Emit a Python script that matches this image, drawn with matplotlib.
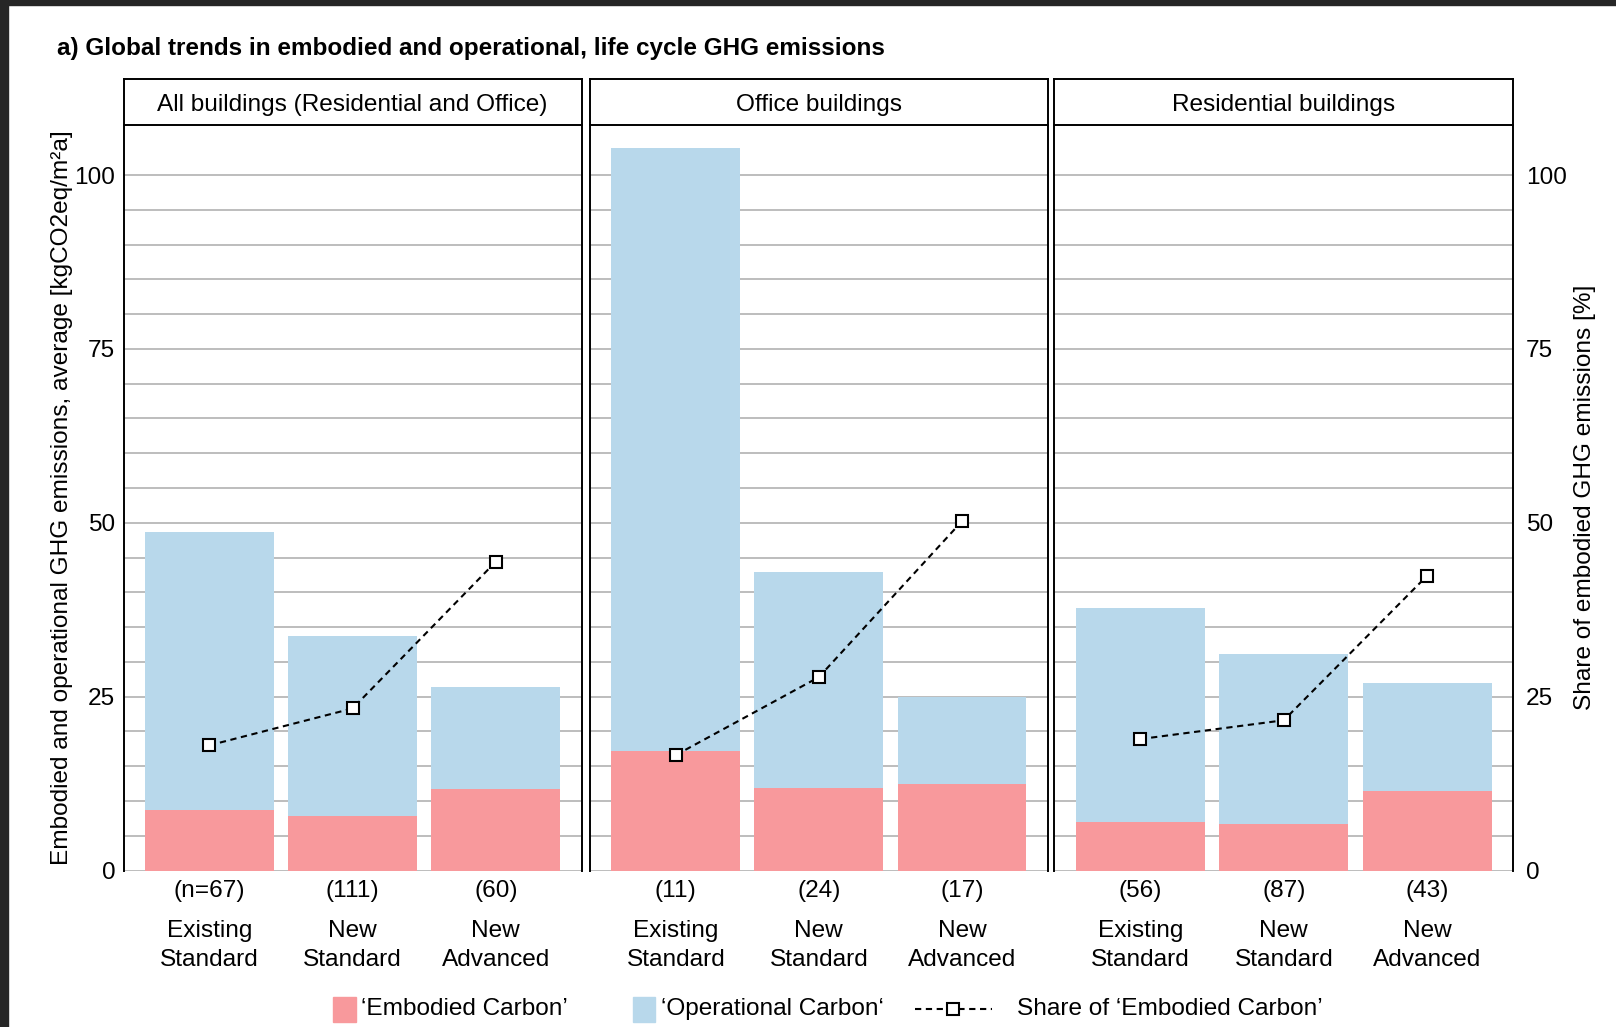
import matplotlib.pyplot as plt
from matplotlib.patches import Rectangle
from matplotlib.lines import Line2D
from matplotlib.transforms import blended_transform_factory

plt.rcParams["font.family"] = ["Liberation Sans", "DejaVu Sans"]

panels = ["All buildings (Residential and Office)", "Office buildings", "Residential buildings"]
categories = ["Existing\nStandard", "New\nStandard", "New\nAdvanced"]
counts = [["(n=67)", "(111)", "(60)"],
          ["(11)", "(24)", "(17)"],
          ["(56)", "(87)", "(43)"]]
# kgCO2eq/m2a, averages per group
embodied = [[8.7, 7.8, 11.7],
            [17.2, 11.8, 12.4],
            [7.0, 6.7, 11.4]]
operational = [[40.0, 25.9, 14.7],
               [86.7, 31.1, 12.5],
               [30.8, 24.5, 15.5]]
# share of embodied carbon, %
share = [[18.0, 23.3, 44.4],
         [16.6, 27.8, 50.2],
         [18.9, 21.6, 42.4]]

red = "#F8999C"
blue = "#B8D8EB"
grid_c = "#BDBDBD"
fs = 17.6

W, H = 1616, 1027
fig = plt.figure(figsize=(W / 100, H / 100), dpi=100)

# dark frame strips along top and left edge
fig.patches.append(Rectangle((0, 1 - 5 / H), 1, 5 / H, transform=fig.transFigure,
                             color="#262626", zorder=0))
fig.patches.append(Rectangle((0, 0), 8 / W, 1, transform=fig.transFigure,
                             color="#262626", zorder=0))

lefts = [123.5, 590.0, 1054.3]
widths = [458.2, 457.7, 459.0]
y0, y1, ys = 870.5, 125.0, 79.3
ytop = (y0 - y1) / ((y0 - 175.0) / 100)

x = [0, 1, 2]
axes = []
for k in range(3):
    ax = fig.add_axes([lefts[k] / W, 1 - y0 / H, widths[k] / W, (y0 - y1) / H])
    axes.append(ax)
    ax.bar(x, embodied[k], width=0.9, color=red, zorder=2)
    ax.bar(x, operational[k], bottom=embodied[k], width=0.9, color=blue, zorder=2)
    ax.plot(x, share[k], color="black", lw=1.5, ls=(0, (3, 2.2)), zorder=3,
            marker="s", ms=8, mfc="white", mec="black", mew=1.5)
    ax.set_xlim(-0.6, 2.6)
    ax.set_ylim(0, ytop)
    for g in range(0, 101, 5):
        ax.axhline(g, color=grid_c, lw=1.4, zorder=1)
    ax.set_xticks([])
    ax.set_yticks([0, 25, 50, 75, 100])
    ax.tick_params(axis="y", length=0, pad=6, labelsize=fs)
    if k > 0:
        ax.set_yticklabels([])
    ax.spines["top"].set_visible(False)
    ax.spines["bottom"].set_visible(False)
    for s in ("left", "right"):
        ax.spines[s].set_linewidth(1.4)
        ax.spines[s].set_color("black")

    tr = blended_transform_factory(ax.transData, fig.transFigure)
    for i in x:
        ax.text(i, 1 - 890.5 / H, counts[k][i], transform=tr, ha="center",
                va="center", fontsize=fs)
        ax.text(i, 1 - 945.5 / H, categories[i], transform=tr, ha="center",
                va="center", fontsize=fs, linespacing=1.42)

    # panel header strip
    st = fig.add_axes([lefts[k] / W, 1 - y1 / H, widths[k] / W, (y1 - ys) / H])
    st.set_xticks([])
    st.set_yticks([])
    for s in st.spines.values():
        s.set_linewidth(1.4)
    st.text(0.5, 0.44, panels[k], ha="center", va="center", fontsize=fs,
            transform=st.transAxes)

# right axis for the share in %
axr = axes[2].twinx()
axr.set_ylim(0, ytop)
axr.set_yticks([0, 25, 50, 75, 100])
axr.tick_params(axis="y", length=0, pad=9, labelsize=fs)
for s in axr.spines.values():
    s.set_visible(False)

fig.text(56.7 / W, 1 - 48.4 / H,
         "a) Global trends in embodied and operational, life cycle GHG emissions",
         fontsize=17.5, fontweight="bold", ha="left", va="center")
fig.text(62 / W, 1 - 497.7 / H,
         "Embodied and operational GHG emissions, average [kgCO2eq/m\u00b2a]",
         rotation=90, ha="center", va="center", fontsize=fs)
fig.text(1585 / W, 1 - 497.7 / H, "Share of embodied GHG emissions [%]",
         rotation=90, ha="center", va="center", fontsize=fs)

# legend row
ly = 1 - 1009 / H
fig.patches.append(Rectangle((333 / W, 1 - 1022 / H), 22.6 / W, 25.4 / H,
                             transform=fig.transFigure, color=red))
fig.text(360.7 / W, ly, "\u2018Embodied Carbon\u2019", ha="left", va="center", fontsize=fs)
fig.patches.append(Rectangle((632.8 / W, 1 - 1022 / H), 22.6 / W, 25.4 / H,
                             transform=fig.transFigure, color=blue))
fig.text(660.6 / W, ly, "\u2018Operational Carbon\u2018", ha="left", va="center", fontsize=fs)
fig.add_artist(Line2D([915 / W, 991.5 / W], [ly, ly], transform=fig.transFigure,
                      color="black", lw=1.5, ls=(0, (3, 2.2))))
fig.add_artist(Line2D([953 / W], [ly], transform=fig.transFigure, marker="s", ms=8,
                      mfc="white", mec="black", mew=1.5, ls="none"))
fig.text(1017 / W, ly, "Share of \u2018Embodied Carbon\u2019", ha="left", va="center", fontsize=fs)

fig.savefig("out.png", dpi=100)
